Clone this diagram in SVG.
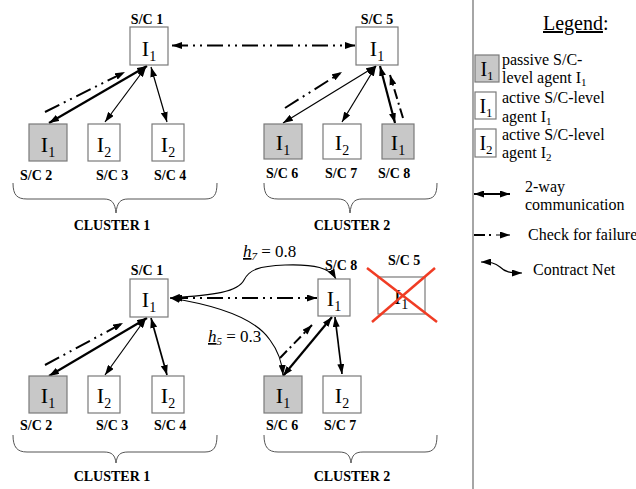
<svg xmlns="http://www.w3.org/2000/svg" width="636" height="489" viewBox="0 0 636 489">
  <style>
    .box { fill: #ffffff; stroke: #7a7a7a; stroke-width: 1.2; }
    .pas { fill: #c8c8c8; stroke: #7a7a7a; stroke-width: 1.2; }
    .lbl { font-family: "Liberation Serif", "Times New Roman", serif; font-weight: bold; font-size: 14px; fill: #000; }
    .ag { font-family: "Liberation Serif", "Times New Roman", serif; font-size: 22px; fill: #000; text-anchor: middle; }
    .lag { font-family: "Liberation Serif", "Times New Roman", serif; font-size: 20px; fill: #000; text-anchor: middle; }
    .lg { font-family: "Liberation Serif", "Times New Roman", serif; font-size: 16px; fill: #000; }
    .bid { font-family: "Liberation Serif", "Times New Roman", serif; font-size: 17px; fill: #000; }
    .title { font-family: "Liberation Serif", "Times New Roman", serif; font-size: 20px; fill: #000; }
    .brace { fill: none; stroke: #555; stroke-width: 1; }
    .thick { fill: none; stroke: #000; stroke-width: 2.2; marker-start: url(#ah); marker-end: url(#ah); }
    .thin { fill: none; stroke: #000; stroke-width: 1.2; marker-start: url(#ah); marker-end: url(#ah); }
    .med { fill: none; stroke: #000; stroke-width: 1.7; marker-start: url(#ah); marker-end: url(#ah); }
    .chk { fill: none; stroke: #000; stroke-width: 2; stroke-dasharray: 16 5 2 5 2 5; marker-end: url(#ah); }
    .cn { fill: none; stroke: #000; stroke-width: 1.1; marker-start: url(#ah); marker-end: url(#ah); }
  </style>
  <defs>
    <marker id="ah" viewBox="0 0 10 7" refX="10" refY="3.5" markerWidth="10" markerHeight="7" markerUnits="userSpaceOnUse" orient="auto-start-reverse">
      <path d="M0,0 L10,3.5 L0,7 z" fill="#000"/>
    </marker>
  </defs>

  <!-- connectors -->
  <g id="connectors">
    <!-- upper scenario -->
    <line class="chk" x1="172" y1="45.5" x2="355" y2="45.5" style="marker-start:url(#ah)"/>
    <line class="thick" x1="147" y1="66" x2="49" y2="123"/>
    <line class="chk" x1="45" y1="112" x2="125" y2="72"/>
    <line class="thin" x1="146" y1="67" x2="105" y2="122"/>
    <line class="thin" x1="151" y1="67" x2="167" y2="122"/>
    <line class="thin" x1="376" y1="66" x2="283" y2="123"/>
    <line class="chk" x1="285" y1="108" x2="342" y2="72"/>
    <line class="thin" x1="376" y1="66" x2="342" y2="122"/>
    <line class="thick" x1="380" y1="66" x2="395" y2="123"/>
    <line class="chk" x1="403" y1="118" x2="390" y2="75" style="stroke-dasharray: 10 4 2 4"/>

    <!-- lower scenario -->
    <line class="chk" x1="172" y1="298" x2="317" y2="298" style="marker-start:url(#ah)"/>
    <path class="cn" d="M170,298 C215,295 238,292 244,280 C249,270 258,266 285,265 C315,264 330,268 336,279"/>
    <path class="cn" d="M170,298 C215,305 255,318 270,340 C279,352 282,362 283,375"/>
    <line class="thick" x1="147" y1="318" x2="49" y2="376"/>
    <line class="chk" x1="45" y1="365" x2="123" y2="323"/>
    <line class="thin" x1="146" y1="318" x2="105" y2="375"/>
    <line class="med" x1="151" y1="318" x2="167" y2="375"/>
    <line class="chk" x1="280" y1="358" x2="312" y2="325" style="stroke-dasharray: 10 4 2 4"/>
    <line class="thick" x1="332" y1="317" x2="283" y2="376"/>
    <line class="med" x1="335" y1="317" x2="342" y2="374"/>
  </g>

  <!-- upper scenario nodes -->
  <g id="top-sc1">
    <text class="lbl" x="147" y="24" text-anchor="middle">S/C 1</text>
    <rect class="box" x="130" y="27" width="38" height="38"/>
    <text class="ag" x="149" y="56">I<tspan font-size="14" dy="5">1</tspan></text>
  </g>
  <g id="top-sc5">
    <text class="lbl" x="377" y="24" text-anchor="middle">S/C 5</text>
    <rect class="box" x="356" y="27" width="42" height="38"/>
    <text class="ag" x="377" y="56">I<tspan font-size="14" dy="5">1</tspan></text>
  </g>
  <g id="top-sc2">
    <rect class="pas" x="29" y="124" width="38" height="37"/>
    <text class="ag" x="48" y="152">I<tspan font-size="14" dy="5">1</tspan></text>
    <text class="lbl" x="20" y="180">S/C 2</text>
  </g>
  <g id="top-sc3">
    <rect class="box" x="88" y="124" width="32" height="37"/>
    <text class="ag" x="104" y="152">I<tspan font-size="14" dy="5">2</tspan></text>
    <text class="lbl" x="96" y="180">S/C 3</text>
  </g>
  <g id="top-sc4">
    <rect class="box" x="152" y="124" width="32" height="37"/>
    <text class="ag" x="168" y="152">I<tspan font-size="14" dy="5">2</tspan></text>
    <text class="lbl" x="154" y="180">S/C 4</text>
  </g>
  <g id="top-sc6">
    <rect class="pas" x="264" y="124" width="38" height="35"/>
    <text class="ag" x="283" y="150">I<tspan font-size="14" dy="5">1</tspan></text>
    <text class="lbl" x="266" y="178">S/C 6</text>
  </g>
  <g id="top-sc7">
    <rect class="box" x="323" y="124" width="38" height="35"/>
    <text class="ag" x="342" y="150">I<tspan font-size="14" dy="5">2</tspan></text>
    <text class="lbl" x="325" y="178">S/C 7</text>
  </g>
  <g id="top-sc8">
    <rect class="pas" x="382" y="124" width="32" height="35"/>
    <text class="ag" x="398" y="150">I<tspan font-size="14" dy="5">1</tspan></text>
    <text class="lbl" x="378" y="178">S/C 8</text>
  </g>
  <g id="top-cluster1">
    <path class="brace" d="M13,183 C13,195 17,199 27,199 L104,199 C112,199 115,203 116,213 C117,203 120,199 128,199 L205,199 C214,199 217,195 217,183"/>
    <text class="lbl" x="112" y="230" text-anchor="middle">CLUSTER 1</text>
  </g>
  <g id="top-cluster2">
    <path class="brace" d="M264,183 C264,195 268,199 278,199 L338,199 C346,199 349,203 350,213 C351,203 354,199 362,199 L425,199 C434,199 437,195 437,183"/>
    <text class="lbl" x="352" y="230" text-anchor="middle">CLUSTER 2</text>
  </g>

  <!-- lower scenario nodes -->
  <g id="bot-sc1">
    <text class="lbl" x="147" y="275" text-anchor="middle">S/C 1</text>
    <rect class="box" x="130" y="279" width="38" height="38"/>
    <text class="ag" x="149" y="307">I<tspan font-size="14" dy="5">1</tspan></text>
  </g>
  <g id="bot-sc8">
    <text class="lbl" x="325" y="270">S/C 8</text>
    <rect class="box" x="318" y="279" width="32" height="37"/>
    <text class="ag" x="334" y="306">I<tspan font-size="14" dy="5">1</tspan></text>
  </g>
  <g id="bot-sc5">
    <text class="lbl" x="388" y="265">S/C 5</text>
    <rect class="box" x="378" y="277" width="47" height="37"/>
    <text class="ag" x="401" y="304">I<tspan font-size="14" dy="5">1</tspan></text>
    <line x1="367" y1="268" x2="437" y2="322" stroke="#f03c24" stroke-width="2.5"/>
    <line x1="435" y1="268" x2="372" y2="322" stroke="#f03c24" stroke-width="2.5"/>
  </g>
  <g id="bot-sc2">
    <rect class="pas" x="29" y="376" width="38" height="37"/>
    <text class="ag" x="48" y="403">I<tspan font-size="14" dy="5">1</tspan></text>
    <text class="lbl" x="20" y="430">S/C 2</text>
  </g>
  <g id="bot-sc3">
    <rect class="box" x="88" y="376" width="32" height="37"/>
    <text class="ag" x="104" y="403">I<tspan font-size="14" dy="5">2</tspan></text>
    <text class="lbl" x="96" y="430">S/C 3</text>
  </g>
  <g id="bot-sc4">
    <rect class="box" x="152" y="376" width="32" height="37"/>
    <text class="ag" x="168" y="403">I<tspan font-size="14" dy="5">2</tspan></text>
    <text class="lbl" x="154" y="430">S/C 4</text>
  </g>
  <g id="bot-sc6">
    <rect class="pas" x="264" y="376" width="38" height="37"/>
    <text class="ag" x="283" y="403">I<tspan font-size="14" dy="5">1</tspan></text>
    <text class="lbl" x="266" y="430">S/C 6</text>
  </g>
  <g id="bot-sc7">
    <rect class="box" x="323" y="376" width="38" height="37"/>
    <text class="ag" x="342" y="403">I<tspan font-size="14" dy="5">2</tspan></text>
    <text class="lbl" x="324" y="430">S/C 7</text>
  </g>
  <g id="bot-cluster1">
    <path class="brace" d="M13,435 C13,447 17,452 27,452 L104,452 C112,452 115,455 116,463 C117,455 120,452 128,452 L205,452 C214,452 217,447 217,435"/>
    <text class="lbl" x="112" y="481" text-anchor="middle">CLUSTER 1</text>
  </g>
  <g id="bot-cluster2">
    <path class="brace" d="M264,435 C264,447 268,452 278,452 L339,452 C347,452 350,455 351,463 C352,455 355,452 363,452 L425,452 C434,452 437,447 437,435"/>
    <text class="lbl" x="352" y="481" text-anchor="middle">CLUSTER 2</text>
  </g>

  <!-- bid values -->
  <g id="bid-h7">
    <text class="bid" x="243" y="257"><tspan font-style="italic" text-decoration="underline">h</tspan><tspan font-style="italic" font-size="11" dy="3">7</tspan><tspan dy="-3"> = 0.8</tspan></text>
  </g>
  <g id="bid-h5">
    <text class="bid" x="208" y="342"><tspan font-style="italic" text-decoration="underline">h</tspan><tspan font-style="italic" font-size="11" dy="3">5</tspan><tspan dy="-3"> = 0.3</tspan></text>
  </g>

  <!-- legend -->
  <g id="legend">
    <line x1="473" y1="0" x2="473" y2="489" stroke="#888" stroke-width="1.5"/>
    <text class="title" x="543" y="30"><tspan text-decoration="underline">Legend</tspan>:</text>

    <rect class="pas" x="475" y="55" width="24" height="27"/>
    <text class="lag" x="487" y="76">I<tspan font-size="13" dy="4">1</tspan></text>
    <text class="lg" x="502" y="65">passive S/C-</text>
    <text class="lg" x="502" y="83">level agent I<tspan font-size="11" dy="3">1</tspan></text>

    <rect class="box" x="475" y="92" width="21" height="27"/>
    <text class="lag" x="486" y="113">I<tspan font-size="13" dy="4">1</tspan></text>
    <text class="lg" x="502" y="103">active S/C-level</text>
    <text class="lg" x="502" y="122">agent I<tspan font-size="11" dy="3">1</tspan></text>

    <rect class="box" x="475" y="129" width="21" height="28"/>
    <text class="lag" x="486" y="150">I<tspan font-size="13" dy="4">2</tspan></text>
    <text class="lg" x="502" y="140">active S/C-level</text>
    <text class="lg" x="502" y="158">agent I<tspan font-size="11" dy="3">2</tspan></text>

    <line class="thick" x1="474" y1="194" x2="510" y2="194"/>
    <text class="lg" x="525" y="192">2-way</text>
    <text class="lg" x="525" y="210">communication</text>

    <path d="M474,235 L485,235 M489,235 L491,235" stroke="#000" stroke-width="2" fill="none"/>
    <line x1="496" y1="235" x2="510" y2="235" stroke="#000" stroke-width="1" marker-end="url(#ah)"/>
    <text class="lg" x="528" y="240">Check for failure</text>

    <path class="cn" d="M481,262 C491,262 495,263 500,267 C505,272 510,273 522,273"/>
    <text class="lg" x="533" y="275">Contract Net</text>
  </g>
</svg>
